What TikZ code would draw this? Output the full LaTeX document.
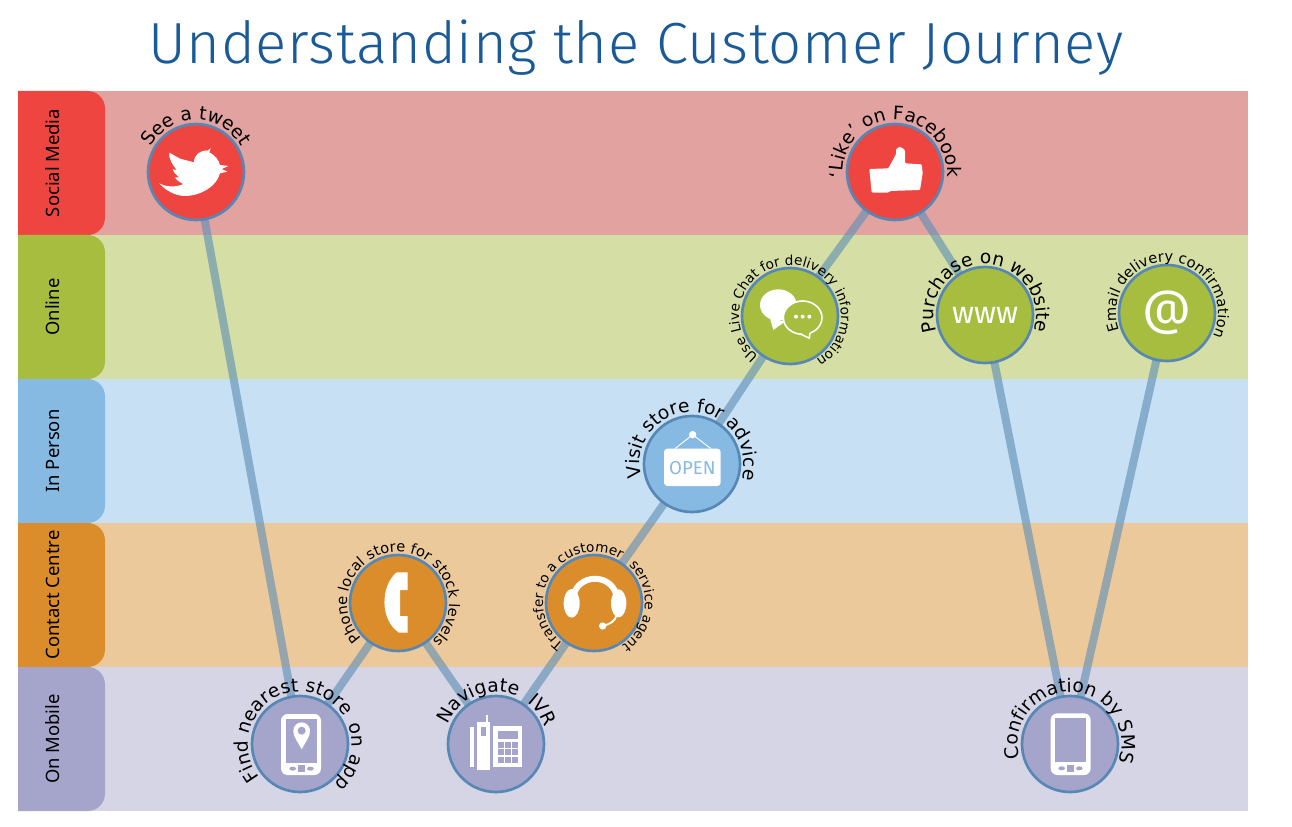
\documentclass[tikz,border=0pt]{standalone}
\usepackage{fontspec}
\setmainfont{DejaVu Sans}
\newfontfamily\titlefont[LetterSpace=1]{Fira Sans Light}
\newfontfamily\iconfont{Fira Sans}
\newfontfamily\tabfont{Noto Sans}
\usetikzlibrary{decorations.text,calc}
\definecolor{titleblue}{HTML}{1A5A96}
\definecolor{ring}{HTML}{5788B5}
\definecolor{wire}{HTML}{5F8FB5}
\definecolor{redD}{HTML}{EF4540}\definecolor{redL}{HTML}{E2A2A0}
\definecolor{grnD}{HTML}{A6BD3F}\definecolor{grnL}{HTML}{D5DFA5}
\definecolor{bluD}{HTML}{86BAE3}\definecolor{bluL}{HTML}{C8E0F3}
\definecolor{orgD}{HTML}{DB8D2C}\definecolor{orgL}{HTML}{ECC99B}
\definecolor{lavD}{HTML}{A5A4CA}\definecolor{lavL}{HTML}{D5D5E6}
\pgfdeclarelayer{bands}\pgfdeclarelayer{wires}
\pgfsetlayers{bands,wires,main}
\tikzset{
 hub/.style={circle,draw=ring,line width=2pt,minimum size=72pt,inner sep=0pt,fill=#1},
 wirepath/.style={draw=wire,line width=6pt,opacity=.62},
 glyph/.style={fill=white,draw=none},
 zoomed/.style={x=.25pt,y=-.25pt},
 tablabel/.style={rotate=90,font=\tabfont\fontsize{13.8}{13.8}\selectfont,text=black,inner sep=0pt}
}
\newcommand\arcfont[1]{\fontsize{#1}{#1}\selectfont}
% node, centre angle, font size (pt), text; optional radius
\newcommand\arclabel[5][52]{\path[decorate,decoration={text along path,text align=center,
  text={|\arcfont{#4}|#5}}] ($(#2)+(#3+178:#1)$) arc[start angle=#3+178,end angle=#3-178,radius=#1];}
\newcommand\band[5]{%
 \fill[#4] (18,#1) rectangle (1248,#2);
 \fill[#3] (18,#1) [rounded corners=13pt] -- (105,#1) -- (105,#2) [sharp corners] -- (18,#2) -- cycle;
 \node[tablabel] (tab#5) at (53,{(#1+#2)/2}) {#5};}
\begin{document}
\begin{tikzpicture}[x=.75pt,y=.75pt]
\useasboundingbox (0,0) rectangle (1292,826);
\node[text=titleblue,font=\titlefont\fontsize{43.5}{43.5}\selectfont,inner sep=0pt] (title) at (636,778) {Understanding the Customer Journey};
\begin{pgfonlayer}{bands}
\fill[white] (0,0) rectangle (1292,826);
\band{735}{591}{redD}{redL}{Social Media}
\band{591}{447}{grnD}{grnL}{Online}
\band{447}{303}{bluD}{bluL}{In Person}
\band{303}{159}{orgD}{orgL}{Contact Centre}
\band{159}{15}{lavD}{lavL}{On Mobile}
\end{pgfonlayer}
\node[hub=redD] (tweet) at (196,654) {};
\node[hub=redD] (like) at (895,654) {};
\node[hub=grnD] (chat) at (790,510) {};
\node[hub=grnD,text=white,font=\iconfont\fontsize{23}{23}\selectfont] (www) at (985,511) {www};
\node[hub=grnD,text=white,font=\iconfont\fontsize{36}{36}\selectfont] (email) at (1167,513) {@};
\node[hub=bluD] (open) at (692,362) {};
\node[hub=orgD] (phone) at (398,223) {};
\node[hub=orgD] (agent) at (594,223) {};
\node[hub=lavD] (find) at (300,82) {};
\node[hub=lavD] (ivr) at (496,82) {};
\node[hub=lavD] (sms) at (1070,82) {};
\begin{pgfonlayer}{wires}
\foreach \a/\b in {tweet/find,find/phone,phone/ivr,ivr/agent,agent/open,open/chat,chat/like,like/www,www/sms,sms/email}
  \draw[wirepath] (\a.center) -- (\b.center);
\end{pgfonlayer}
% twitter bird
\begin{scope}[shift={(120,736)},zoomed]
\fill[glyph] (148,188) -- (180,206) -- (222,217) .. controls (222,195) and (240,180) .. (262,182) -- (272,175) -- (268,187) .. controls (285,195) and (296,210) .. (300,225) -- (325,228) -- (305,237) -- (322,245) -- (300,250) .. controls (290,290) and (240,318) .. (195,318) .. controls (165,318) and (135,300) .. (118,280) .. controls (140,292) and (170,292) .. (190,282) .. controls (175,275) and (168,268) .. (165,262) -- (178,262) .. controls (168,255) and (160,245) .. (158,238) -- (170,240) .. controls (158,225) and (145,205) .. (148,188) -- cycle;
\end{scope}
% thumb and chat
\begin{scope}[shift={(720,731)},zoomed]
\fill[glyph,rounded corners=.8pt] (505,293) -- (455,293) -- (448,222) -- (505,220) -- (528,178) -- (528,162) -- (540,155) -- (555,165) -- (555,205) -- (605,208) -- (608,235) -- (600,285) -- (510,288) -- cycle;
\fill[glyph] (175,630) ellipse[x radius=55,y radius=47];
\fill[glyph] (150,670) -- (160,705) -- (195,680) -- cycle;
\fill[grnD,draw=white,line width=1.2pt,line join=round] (248,668) ellipse[x radius=58,y radius=50];
\fill[grnD,draw=white,line width=1.2pt,line join=round] (240,716) -- (268,730) -- (270,712);
\fill[grnD] (235,708) -- (272,708) -- (262,722) -- cycle;
\foreach \p in {228,248,268} \fill[white] (\p,665) circle[radius=6];
\end{scope}
% open sign and headset
\begin{scope}[shift={(520,436)},zoomed]
\draw[white,line width=.7pt] (465,176) -- (518,134) -- (573,176);
\fill[white] (518,134) circle[radius=11];
\fill[white,rounded corners=2.5pt] (432,176) rectangle (602,288);
\node[text=bluD,font=\iconfont\fontsize{14}{14}\selectfont,inner sep=0pt] (opentext) at (517,234) {OPEN};
\draw[white,line width=4.5pt] (158,630) .. controls (165,545) and (285,545) .. (292,630);
\fill[white] (155,640) ellipse[x radius=24,y radius=43];
\fill[white] (296,640) ellipse[x radius=23,y radius=42];
\draw[white,line width=1.4pt] (290,675) .. controls (285,695) and (270,702) .. (248,708);
\fill[white] (248,708) circle[radius=11];
\end{scope}
% handset, map phone, desk phone
\begin{scope}[shift={(225,286)},zoomed]
\fill[glyph] (515,97) -- (548,97) -- (548,150) -- (525,150) -- (525,228) -- (548,228) -- (548,278) -- (522,278) .. controls (465,240) and (465,140) .. (515,97) -- cycle;
\fill[white,rounded corners=5pt] (168,522) rectangle (288,705);
\fill[lavD] (182,537) rectangle (275,670);
\fill[white] (230,628) .. controls (215,600) and (205,590) .. (205,572) arc[start angle=180,end angle=360,radius=25] .. controls (255,590) and (245,600) .. (230,628) -- cycle;
\fill[lavD] (230,572) circle[radius=12];
\fill[lavD] (203,686) ellipse[x radius=10,y radius=6];
\fill[lavD] (256,686) ellipse[x radius=10,y radius=6];
\fill[lavD] (218,676) rectangle (240,696);
\fill[white] (735,560) rectangle (748,680);
\fill[white] (755,545) rectangle (795,690);
\fill[white] (782,525) rectangle (790,545);
\fill[lavD] (767,560) rectangle (782,588);
\fill[white] (805,558) rectangle (892,680);
\fill[lavD] (818,572) rectangle (880,598);
\foreach \u in {818,840,862} \foreach \v in {605,628,651} \fill[lavD] (\u,\v) rectangle +(18,18);
\end{scope}
% sms phone
\begin{scope}[shift={(990,166)},zoomed]
\fill[white,rounded corners=5pt] (182,160) rectangle (302,345);
\fill[lavD] (196,175) rectangle (288,305);
\fill[lavD] (215,325) ellipse[x radius=10,y radius=6];
\fill[lavD] (268,325) ellipse[x radius=10,y radius=6];
\fill[lavD] (231,315) rectangle (252,335);
\end{scope}
% labels on arcs
\arclabel{tweet}{90}{14}{See a tweet}
\arclabel{like}{90}{14}{`Like' on Facebook}
\arclabel[51]{chat}{133}{10.2}{Use Live Chat for delivery}
\arclabel[51]{chat}{-15}{10.2}{information}
\arclabel[51]{www}{90}{14}{Purchase on website}
\arclabel[51]{email}{87}{11}{Email delivery confirmation}
\arclabel{open}{89}{14}{Visit store for advice}
\arclabel[51]{agent}{146}{10.2}{Transfer to a customer}
\arclabel[51]{agent}{-5}{10.2}{service agent}
\arclabel[51]{phone}{88}{11}{Phone local store for stock levels}
\arclabel{find}{126}{14}{Find nearest store}
\arclabel{find}{-14}{14}{on app}
\arclabel{ivr}{112}{14}{Navigate}
\arclabel{ivr}{36}{14}{IVR}
\arclabel{sms}{88}{14}{Confirmation by SMS}
\end{tikzpicture}
\end{document}
